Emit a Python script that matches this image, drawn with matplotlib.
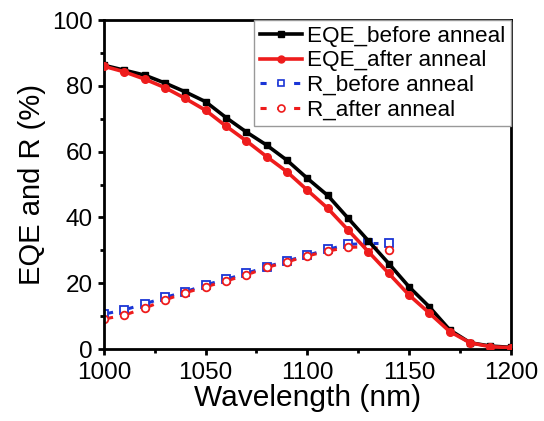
import numpy as np
import matplotlib
matplotlib.use("Agg")
import matplotlib.pyplot as plt
from matplotlib.lines import Line2D
from matplotlib.ticker import MultipleLocator

plt.rcParams['font.family'] = ['Liberation Sans', 'DejaVu Sans']

wl = [1000, 1010, 1020, 1030, 1040, 1050, 1060, 1070, 1080, 1090, 1100,
      1110, 1120, 1130, 1140, 1150, 1160, 1170, 1180, 1190, 1200]
eqe_before = [86.3, 84.8, 83.3, 80.9, 78.2, 75.2, 70.4, 66.0, 62.0, 57.4, 51.9,
              46.7, 39.8, 32.9, 26.0, 18.9, 12.8, 5.8, 1.9, 0.9, 0.5]
eqe_after = [86.0, 84.3, 82.1, 79.5, 76.2, 72.6, 67.8, 63.3, 58.5, 53.9, 48.3,
             42.8, 36.2, 29.6, 23.0, 16.4, 10.9, 5.3, 1.9, 0.7, 0.4]

wl_r = [1000, 1010, 1020, 1030, 1040, 1050, 1060, 1070, 1080, 1090, 1100,
        1110, 1120, 1130, 1140]
r_before = [10.6, 11.9, 13.7, 15.7, 17.4, 19.5, 21.2, 23.0, 25.0, 26.8, 28.5,
            30.3, 31.8, 32.1, 32.1]
r_after = [9.1, 10.3, 12.4, 14.9, 17.1, 18.9, 20.7, 22.5, 24.8, 26.5, 28.3,
           29.8, 30.9, 31.1, 30.1]

RED = '#ee1c1c'
BLUE = '#1a35d6'

fig = plt.figure(figsize=(5.44, 4.21), dpi=100)
ax = fig.add_axes([0.191, 0.171, 0.748, 0.781])

ax.plot(wl, eqe_before, color='black', lw=2.6, marker='s', ms=4.5, zorder=3)
ax.plot(wl, eqe_after, color=RED, lw=2.6, marker='o', ms=5.5, zorder=3)


def short_dashes(x, y, color):
    # a short dash just right of every open marker, toward the next point
    x = np.asarray(x, float)
    y = np.asarray(y, float)
    for i in range(len(x) - 1):
        t0, t1 = 0.22, 0.45
        xs = [x[i] + t0 * (x[i + 1] - x[i]), x[i] + t1 * (x[i + 1] - x[i])]
        ys = [y[i] + t0 * (y[i + 1] - y[i]), y[i] + t1 * (y[i + 1] - y[i])]
        ax.plot(xs, ys, color=color, lw=2.2, solid_capstyle='butt', zorder=2)


short_dashes(wl_r, r_before, BLUE)
short_dashes(wl_r, r_after, RED)
ax.plot(wl_r, r_before, ls='none', marker='s', ms=5.5, mfc='white', mec=BLUE,
        mew=1.3, zorder=2)
ax.plot(wl_r, r_after, ls='none', marker='o', ms=5.5, mfc='white', mec=RED,
        mew=1.3, zorder=2)

ax.set_xlim(1000, 1200)
ax.set_ylim(0, 100)
ax.xaxis.set_major_locator(MultipleLocator(50))
ax.xaxis.set_minor_locator(MultipleLocator(25))
ax.yaxis.set_major_locator(MultipleLocator(20))
ax.yaxis.set_minor_locator(MultipleLocator(10))
ax.tick_params(which='major', direction='out', length=4.5, width=2, labelsize=17.5, pad=3.5)
ax.tick_params(axis='x', which='major', pad=5)
ax.tick_params(which='minor', direction='out', length=3, width=2)
for s in ax.spines.values():
    s.set_linewidth(2)

ax.set_xlabel('Wavelength (nm)', fontsize=21.5, labelpad=0)
ax.set_ylabel('EQE and R (%)', fontsize=21, labelpad=4)

handles = [
    Line2D([], [], color='black', lw=2.6, marker='s', ms=4),
    Line2D([], [], color=RED, lw=2.6, marker='o', ms=5),
    Line2D([], [], color=BLUE, lw=2.2, ls=(0, (2, 3.5)), marker='s', ms=5,
           mfc='white', mew=1.2),
    Line2D([], [], color=RED, lw=2.2, ls=(0, (2, 3.5)), marker='o', ms=5,
           mfc='white', mew=1.2),
]
labels = ['EQE_before anneal', 'EQE_after anneal', 'R_before anneal', 'R_after anneal']
leg = ax.legend(handles, labels, loc='upper right', fontsize=16.2,
                frameon=True, fancybox=False, borderpad=0.25, labelspacing=0.16,
                handlelength=1.9, handletextpad=0.2, borderaxespad=0)
leg.get_frame().set_edgecolor('#999999')
leg.get_frame().set_linewidth(1)
leg.get_frame().set_alpha(1)

fig.savefig('out.png', dpi=100)
